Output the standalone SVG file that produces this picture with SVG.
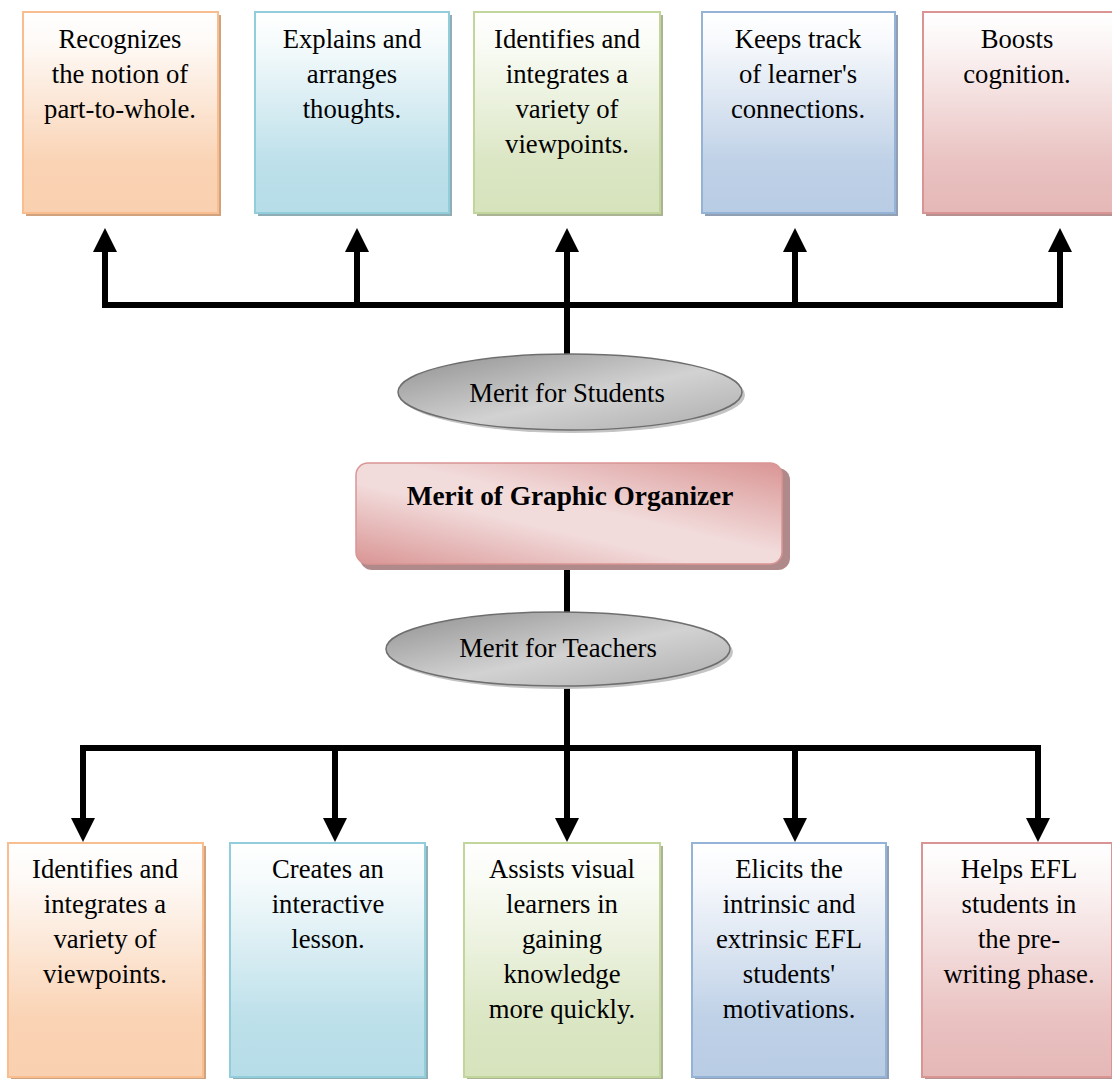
<svg xmlns="http://www.w3.org/2000/svg" width="1112" height="1079" viewBox="0 0 1112 1079">
<style>
text{font-family:"Liberation Serif","Times New Roman",serif;font-size:26.7px;fill:#000;text-anchor:middle}
.b{font-weight:bold;font-size:27.3px}
.conn{fill:none;stroke:#000;stroke-width:6}
</style>
<defs>
<marker id="ah" viewBox="0 0 24 24" refX="0" refY="12" markerWidth="24" markerHeight="24" markerUnits="userSpaceOnUse" orient="auto"><path d="M0,0 L24,12 L0,24 z" fill="#000"/></marker>
<linearGradient id="gO" x1="0" y1="0" x2="0" y2="1"><stop offset="0" stop-color="#fff"/><stop offset="0.15" stop-color="#fefaf7"/><stop offset="0.75" stop-color="#fad3b4"/><stop offset="1" stop-color="#f9d1b0"/></linearGradient>
<linearGradient id="gB" x1="0" y1="0" x2="0" y2="1"><stop offset="0" stop-color="#fff"/><stop offset="0.15" stop-color="#f6fbfc"/><stop offset="0.75" stop-color="#bde0ea"/><stop offset="1" stop-color="#b6dde8"/></linearGradient>
<linearGradient id="gG" x1="0" y1="0" x2="0" y2="1"><stop offset="0" stop-color="#fff"/><stop offset="0.15" stop-color="#fafcf6"/><stop offset="0.75" stop-color="#dbe6c4"/><stop offset="1" stop-color="#d6e3bc"/></linearGradient>
<linearGradient id="gV" x1="0" y1="0" x2="0" y2="1"><stop offset="0" stop-color="#fff"/><stop offset="0.15" stop-color="#f7f9fc"/><stop offset="0.75" stop-color="#bfd1e7"/><stop offset="1" stop-color="#b8cce4"/></linearGradient>
<linearGradient id="gR" x1="0" y1="0" x2="0" y2="1"><stop offset="0" stop-color="#fff"/><stop offset="0.15" stop-color="#fcf6f6"/><stop offset="0.75" stop-color="#e9c2c1"/><stop offset="1" stop-color="#e5b8b7"/></linearGradient>
<linearGradient id="gC" x1="1" y1="0" x2="0" y2="1"><stop offset="0" stop-color="#d99594"/><stop offset="0.45" stop-color="#f2dbdb"/><stop offset="0.6" stop-color="#f2dbdb"/><stop offset="1" stop-color="#d99594"/></linearGradient>
<linearGradient id="gE" x1="0" y1="0" x2="1" y2="1"><stop offset="0" stop-color="#8f8f8f"/><stop offset="0.55" stop-color="#d2d2d2"/><stop offset="1" stop-color="#acacac"/></linearGradient>
</defs>

<g id="connectors">
<path class="conn" d="M102,305 H1063"/>
<path class="conn" d="M105,308 V252" marker-end="url(#ah)"/>
<path class="conn" d="M357,308 V252" marker-end="url(#ah)"/>
<path class="conn" d="M567,356 V252" marker-end="url(#ah)"/>
<path class="conn" d="M795,308 V252" marker-end="url(#ah)"/>
<path class="conn" d="M1060,308 V252" marker-end="url(#ah)"/>
<path class="conn" d="M567,565 V614"/>
<path class="conn" d="M80,748 H1041"/>
<path class="conn" d="M83,745 V818" marker-end="url(#ah)"/>
<path class="conn" d="M335,745 V818" marker-end="url(#ah)"/>
<path class="conn" d="M567,686 V818" marker-end="url(#ah)"/>
<path class="conn" d="M795,745 V818" marker-end="url(#ah)"/>
<path class="conn" d="M1038,745 V818" marker-end="url(#ah)"/>
</g>

<g id="top1"><rect x="26" y="15" width="195" height="201" fill="#d1a27e"/><rect x="23" y="12" width="195" height="201" fill="url(#gO)" stroke="#f9be8f" stroke-width="2"/>
<text x="120" y="48">Recognizes</text><text x="120" y="83">the notion of</text><text x="120" y="118">part-to-whole.</text></g>
<g id="top2"><rect x="258" y="15" width="194" height="201" fill="#8fadb5"/><rect x="255" y="12" width="194" height="201" fill="url(#gB)" stroke="#92cddc" stroke-width="2"/>
<text x="352" y="48">Explains and</text><text x="352" y="83">arranges</text><text x="352" y="118">thoughts.</text></g>
<g id="top3"><rect x="477" y="15" width="186" height="201" fill="#aab394"/><rect x="474" y="12" width="186" height="201" fill="url(#gG)" stroke="#c2d69b" stroke-width="2"/>
<text x="567" y="48">Identifies and</text><text x="567" y="83">integrates a</text><text x="567" y="118">variety of</text><text x="567" y="153">viewpoints.</text></g>
<g id="top4"><rect x="705" y="15" width="193" height="201" fill="#909fb2"/><rect x="702" y="12" width="193" height="201" fill="url(#gV)" stroke="#95b3d7" stroke-width="2"/>
<text x="798" y="48">Keeps track</text><text x="798" y="83">of learner's</text><text x="798" y="118">connections.</text></g>
<g id="top5"><rect x="926" y="15" width="190" height="201" fill="#b79190"/><rect x="923" y="12" width="190" height="201" fill="url(#gR)" stroke="#d99594" stroke-width="2"/>
<text x="1017" y="48">Boosts</text><text x="1017" y="83">cognition.</text></g>

<g id="students"><ellipse cx="573" cy="395" rx="172" ry="38" fill="#c4c4c4"/><ellipse cx="570" cy="392" rx="172" ry="38" fill="url(#gE)" stroke="#6e6e6e" stroke-width="1.5"/>
<text x="567" y="402">Merit for Students</text></g>

<g id="center"><rect x="360" y="468" width="430" height="102" rx="12" fill="#b08a8a"/><rect x="356" y="463" width="426" height="101" rx="12" fill="url(#gC)" stroke="#d99594" stroke-width="1.5"/>
<text class="b" x="570" y="505">Merit of Graphic Organizer</text></g>

<g id="teachers"><ellipse cx="561" cy="652" rx="172" ry="37" fill="#c4c4c4"/><ellipse cx="558" cy="649" rx="172" ry="37" fill="url(#gE)" stroke="#6e6e6e" stroke-width="1.5"/>
<text x="558" y="657">Merit for Teachers</text></g>

<g id="bot1"><rect x="11" y="846" width="195" height="234" fill="#d1a27e"/><rect x="8" y="843" width="195" height="234" fill="url(#gO)" stroke="#f9be8f" stroke-width="2"/>
<text x="105" y="878">Identifies and</text><text x="105" y="913">integrates a</text><text x="105" y="948">variety of</text><text x="105" y="983">viewpoints.</text></g>
<g id="bot2"><rect x="233" y="846" width="195" height="234" fill="#8fadb5"/><rect x="230" y="843" width="195" height="234" fill="url(#gB)" stroke="#92cddc" stroke-width="2"/>
<text x="328" y="878">Creates an</text><text x="328" y="913">interactive</text><text x="328" y="948">lesson.</text></g>
<g id="bot3"><rect x="467" y="846" width="196" height="234" fill="#aab394"/><rect x="464" y="843" width="196" height="234" fill="url(#gG)" stroke="#c2d69b" stroke-width="2"/>
<text x="562" y="878">Assists visual</text><text x="562" y="913">learners in</text><text x="562" y="948">gaining</text><text x="562" y="983">knowledge</text><text x="562" y="1018">more quickly.</text></g>
<g id="bot4"><rect x="695" y="846" width="194" height="234" fill="#909fb2"/><rect x="692" y="843" width="194" height="234" fill="url(#gV)" stroke="#95b3d7" stroke-width="2"/>
<text x="789" y="878">Elicits the</text><text x="789" y="913">intrinsic and</text><text x="789" y="948">extrinsic EFL</text><text x="789" y="983">students'</text><text x="789" y="1018">motivations.</text></g>
<g id="bot5"><rect x="925" y="846" width="190" height="234" fill="#b79190"/><rect x="922" y="843" width="190" height="234" fill="url(#gR)" stroke="#d99594" stroke-width="2"/>
<text x="1019" y="878">Helps EFL</text><text x="1019" y="913">students in</text><text x="1019" y="948">the pre-</text><text x="1019" y="983">writing phase.</text></g>
</svg>
